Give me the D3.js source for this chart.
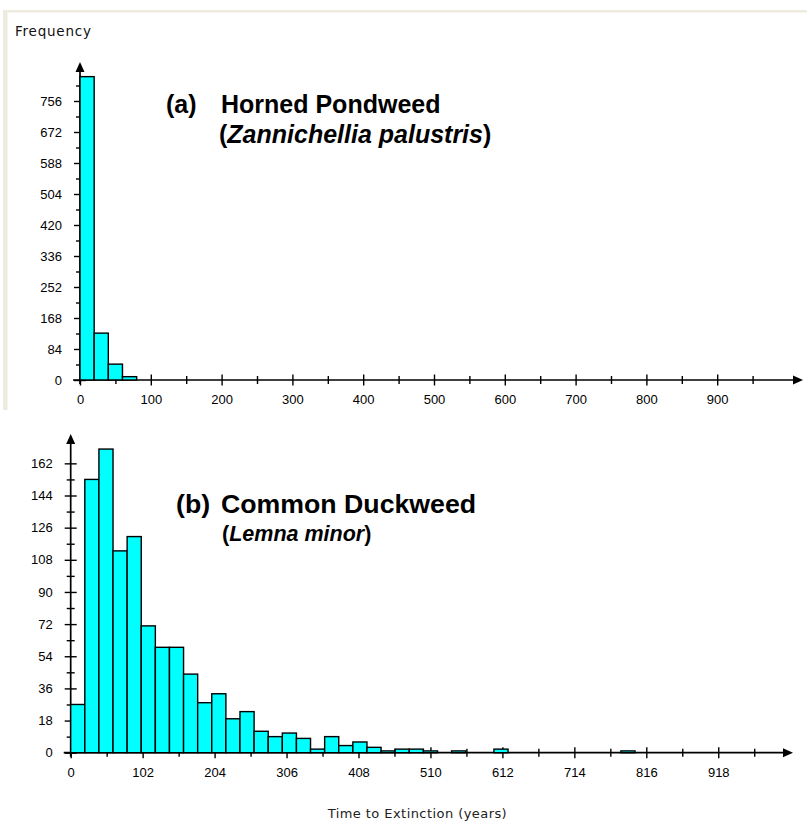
<!DOCTYPE html>
<html><head><meta charset="utf-8">
<script src="https://cdn.jsdelivr.net/npm/d3@7"></script>
<style>html,body{margin:0;padding:0;background:#fff;}svg{display:block;}</style>
</head><body>
<svg id="c" width="807" height="823"></svg>
<script>
// ---- data ----
const binWidth = 20;
const binsA = [0, 20, 40, 60];
const countsA = [822, 127, 43, 9];
const binsB = [0,20,40,60,80,100,120,140,160,180,200,220,240,260,280,300,320,340,360,380,400,420,440,460,480,500,520,540,560,580,600,620,640,660,680,700,720,740,760,780];
const countsB = [27,153,170,113,121,71,59,59,44,28,33,19,23,12,9,11,8,2,9,4,6,3,1,2,2,1,0,1,0,0,2,0,0,0,0,0,0,0,0,1];
const xTicksA = [0,100,200,300,400,500,600,700,800,900];
const xMinorA = [50,150,250,350,450,550,650,750,850,950];
const yTicksA = [0,84,168,252,336,420,504,588,672,756];
const yMinorA = [42,126,210,294,378,462,546,630,714,798];
const xTicksB = [0,102,204,306,408,510,612,714,816,918];
const xMinorB = [51,153,255,357,459,561,663,765,867,969];
const yTicksB = [0,18,36,54,72,90,108,126,144,162];
const yMinorB = [9,27,45,63,81,99,117,135,153];
const yLabel = "Frequency";
const xLabel = "Time to Extinction (years)";

const svg = d3.select("#c");
const tickFont = "'Liberation Sans', Arial, sans-serif";

// window frame
svg.append("rect").attr("x",3).attr("y",10).attr("width",4.5).attr("height",400).attr("fill","#EDEADF");
svg.append("rect").attr("x",3).attr("y",10).attr("width",804).attr("height",2.5).attr("fill","#EDEADF");

svg.append("text").attr("x",15).attr("y",35.5).attr("font-family","'DejaVu Sans', sans-serif")
  .attr("font-size",13.5).attr("textLength",76).attr("lengthAdjust","spacing").attr("fill","#111").text(yLabel);

function panel(cfg){
  const {x, y, bins, counts, xt, xm, yt, ym, xEnd, yTop} = cfg;
  const x0 = x.range()[0], y0 = y.range()[0];
  const g = svg.append("g");
  const ax = g.append("g").attr("transform",`translate(0,${y0-5.5})`)
    .call(d3.axisBottom(x).tickValues(xt).tickSize(11).tickPadding(9.5).tickFormat(d3.format("d")));
  ax.select(".domain").remove();
  ax.selectAll("line").attr("stroke","#000").attr("stroke-width",1.4);
  ax.selectAll("text").attr("font-family",tickFont).attr("font-size",13).attr("fill","#000");
  const axm = g.append("g").attr("transform",`translate(0,${y0-4})`)
    .call(d3.axisBottom(x).tickValues(xm).tickSize(8).tickFormat(""));
  axm.select(".domain").remove();
  axm.selectAll("line").attr("stroke","#000").attr("stroke-width",1.4);
  const ay = g.append("g").attr("transform",`translate(${x0+6},0)`)
    .call(d3.axisLeft(y).tickValues(yt).tickSize(12).tickPadding(12).tickFormat(d3.format("d")));
  ay.select(".domain").remove();
  ay.selectAll("line").attr("stroke","#000").attr("stroke-width",1.4);
  ay.selectAll("text").attr("font-family",tickFont).attr("font-size",13).attr("fill","#000");
  const aym = g.append("g").attr("transform",`translate(${x0+4},0)`)
    .call(d3.axisLeft(y).tickValues(ym).tickSize(8).tickFormat(""));
  aym.select(".domain").remove();
  aym.selectAll("line").attr("stroke","#000").attr("stroke-width",1.4);
  g.append("line").attr("x1",x0-7).attr("x2",xEnd-8).attr("y1",y0).attr("y2",y0).attr("stroke","#000").attr("stroke-width",1.7);
  g.append("line").attr("x1",x0).attr("x2",x0).attr("y1",y0+4).attr("y2",yTop+8).attr("stroke","#000").attr("stroke-width",1.7);
  g.append("path").attr("d",`M${xEnd},${y0} L${xEnd-10},${y0-4.5} L${xEnd-10},${y0+4.5} Z`).attr("fill","#000");
  g.append("path").attr("d",`M${x0},${yTop} L${x0-4.5},${yTop+10} L${x0+4.5},${yTop+10} Z`).attr("fill","#000");
  g.selectAll("rect.bar").data(bins.map((b,i)=>({b, c:counts[i]})).filter(d=>d.c>0))
    .enter().append("rect").attr("class","bar")
    .attr("x",d=>x(d.b)).attr("width",d=>x(d.b+binWidth)-x(d.b))
    .attr("y",d=>y(d.c)).attr("height",d=>y(0)-y(d.c))
    .attr("fill","#00FFFF").attr("stroke","#000").attr("stroke-width",1.4);
}

const xA = d3.scaleLinear().domain([0,1000]).range([80,788]);
const yA = d3.scaleLinear().domain([0,840]).range([380,70]);
panel({x:xA, y:yA, bins:binsA, counts:countsA, xt:xTicksA, xm:xMinorA, yt:yTicksA, ym:yMinorA, xEnd:803, yTop:62});

const xB = d3.scaleLinear().domain([0,1020]).range([70.7,790.2]);
const yB = d3.scaleLinear().domain([0,180]).range([752.7,431.2]);
panel({x:xB, y:yB, bins:binsB, counts:countsB, xt:xTicksB, xm:xMinorB, yt:yTicksB, ym:yMinorB, xEnd:793, yTop:434});

// titles
const tf = "'Liberation Sans', Arial, Helvetica, sans-serif";
function title(x1, x2, y1, y2, tag, name, sci, x3, fs1, fs2){
  const t = svg.append("g").attr("font-family",tf).attr("font-weight","bold").attr("fill","#000");
  t.append("text").attr("x",x1).attr("y",y1).attr("font-size",fs1).text(tag);
  t.append("text").attr("x",x2).attr("y",y1).attr("font-size",fs1).text(name);
  const l2 = t.append("text").attr("x",x3).attr("y",y2).attr("font-size",fs2);
  l2.append("tspan").text("(");
  l2.append("tspan").attr("font-style","italic").text(sci);
  l2.append("tspan").text(")");
}
title(166, 221, 113, 143, "(a)", "Horned Pondweed", "Zannichellia palustris", 219, 25, 25);
title(176, 221, 513, 541, "(b)", "Common Duckweed", "Lemna minor", 222, 26.7, 21.5);

svg.append("text").attr("x",327.7).attr("y",818).attr("font-family","'DejaVu Sans', sans-serif")
  .attr("font-size",13).attr("textLength",179).attr("lengthAdjust","spacing").attr("fill","#222").text(xLabel);
</script>
</body></html>
